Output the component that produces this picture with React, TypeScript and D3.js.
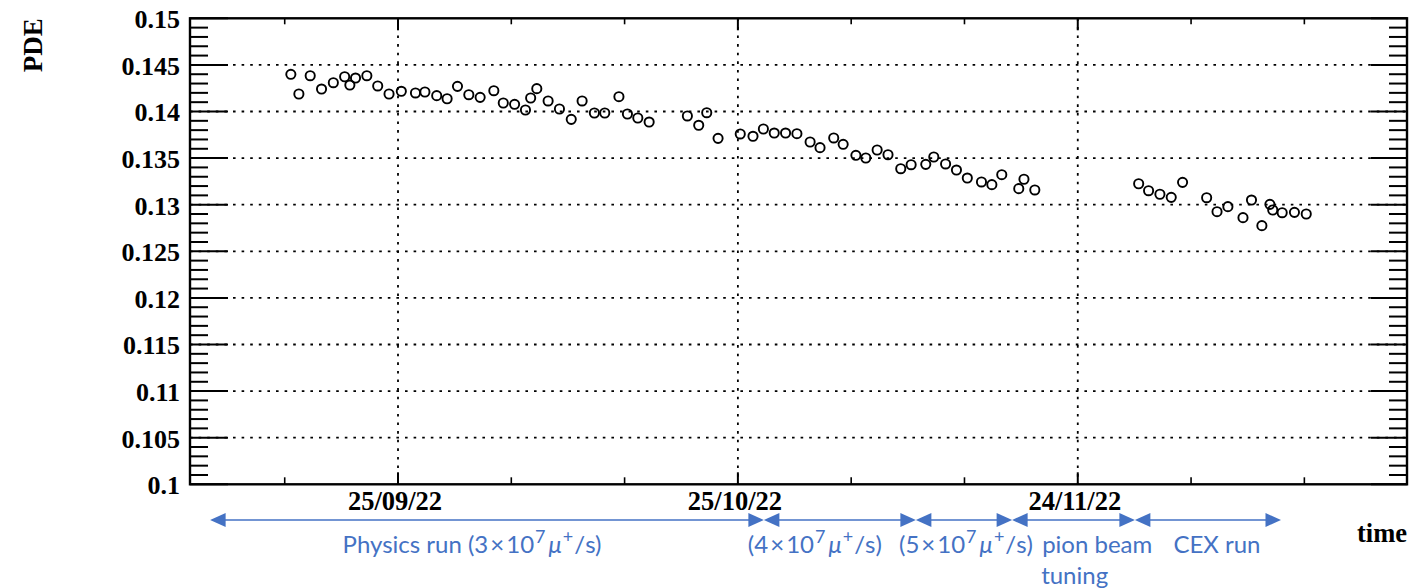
import React from "react";
import * as d3 from "d3";

// ---------- data ----------
const measurementTimes = [
  "2022-09-15T13:00", "2022-09-16T06:00", "2022-09-17T06:00", "2022-09-18T06:00", "2022-09-19T07:00",
  "2022-09-20T07:00", "2022-09-20T18:00", "2022-09-21T06:00", "2022-09-22T06:00", "2022-09-23T05:00",
  "2022-09-24T05:00", "2022-09-25T07:00", "2022-09-26T13:00", "2022-09-27T09:00", "2022-09-28T10:00",
  "2022-09-29T08:00", "2022-09-30T06:00", "2022-10-01T06:00", "2022-10-02T06:00", "2022-10-03T11:00",
  "2022-10-04T07:00", "2022-10-05T07:00", "2022-10-06T06:00", "2022-10-06T17:00", "2022-10-07T06:00",
  "2022-10-08T06:00", "2022-10-09T06:00", "2022-10-10T07:00", "2022-10-11T06:00", "2022-10-12T08:00",
  "2022-10-13T06:00", "2022-10-14T12:00", "2022-10-15T06:00", "2022-10-16T04:00", "2022-10-17T04:00",
  "2022-10-20T13:00", "2022-10-21T13:00", "2022-10-22T06:00", "2022-10-23T06:00", "2022-10-25T05:00",
  "2022-10-26T08:00", "2022-10-27T06:00", "2022-10-28T05:00", "2022-10-29T05:00", "2022-10-30T05:00",
  "2022-10-31T09:00", "2022-11-01T06:00", "2022-11-02T11:00", "2022-11-03T07:00", "2022-11-04T10:00",
  "2022-11-05T07:00", "2022-11-06T07:00", "2022-11-07T06:00", "2022-11-08T09:00", "2022-11-09T07:00",
  "2022-11-10T14:00", "2022-11-11T07:00", "2022-11-12T08:00", "2022-11-13T07:00", "2022-11-14T06:00",
  "2022-11-15T12:00", "2022-11-16T10:00", "2022-11-17T07:00", "2022-11-18T19:00", "2022-11-19T06:00",
  "2022-11-20T05:00", "2022-11-29T09:00", "2022-11-30T06:00", "2022-12-01T06:00", "2022-12-02T06:00",
  "2022-12-03T06:00", "2022-12-05T09:00", "2022-12-06T07:00", "2022-12-07T06:00", "2022-12-08T14:00",
  "2022-12-09T08:00", "2022-12-10T06:00", "2022-12-10T23:00", "2022-12-11T05:00", "2022-12-12T01:00",
  "2022-12-13T03:00", "2022-12-14T04:00",
];

const pdeValues = [
  0.14399, 0.14188, 0.14384, 0.14241, 0.14309,
  0.14373, 0.14284, 0.14359, 0.14384, 0.14274,
  0.14188, 0.14217, 0.14199, 0.14209, 0.1417,
  0.14137, 0.1427, 0.1418, 0.14152, 0.14223,
  0.14091, 0.14077, 0.14016, 0.14145, 0.14245,
  0.14113, 0.14027, 0.13916, 0.14113, 0.13984,
  0.13984, 0.14159, 0.13973, 0.1393, 0.13887,
  0.13952, 0.13852, 0.13987, 0.13712, 0.13759,
  0.13734, 0.13812, 0.13769, 0.13769, 0.13762,
  0.13673, 0.13612, 0.13716, 0.13648, 0.1353,
  0.13501, 0.13587, 0.13536, 0.13386, 0.13429,
  0.13433, 0.13512, 0.13437, 0.13372, 0.13286,
  0.13244, 0.13215, 0.13322, 0.13172, 0.13273,
  0.13158, 0.13225, 0.1315, 0.13112, 0.13079,
  0.1324, 0.13075, 0.12925, 0.12979, 0.12861,
  0.1305, 0.12775, 0.13004, 0.12943, 0.12914,
  0.12918, 0.129,
];

const yTickValues = [0.1, 0.105, 0.11, 0.115, 0.12, 0.125, 0.13, 0.135, 0.14, 0.145, 0.15];
const yTickLabels = ["0.1", "0.105", "0.11", "0.115", "0.12", "0.125", "0.13", "0.135", "0.14", "0.145", "0.15"];

const xMajorTicks = ["2022-09-25T00:00", "2022-10-25T00:00", "2022-11-24T00:00"];
const xMinorTicks = [
  "2022-09-15T00:00", "2022-10-05T00:00", "2022-10-15T00:00", "2022-11-04T00:00",
  "2022-11-14T00:00", "2022-12-04T00:00", "2022-12-14T00:00",
];
const xDomain = ["2022-09-06T15:22", "2022-12-23T01:26"];

const runStarts = ["2022-09-08T10:00", "2022-10-27T07:00", "2022-11-09T17:00", "2022-11-18T05:00", "2022-11-29T01:00"];
const runEnds = ["2022-10-27T07:00", "2022-11-09T17:00", "2022-11-18T05:00", "2022-11-29T01:00", "2022-12-11T22:30"];
const runNames = ["Physics run ", "", "", "pion beam", "CEX run"];
const runRates = ["3", "4", "5", "", ""];

// ---------- layout ----------
const W = 1412;
const H = 588;
const L = 190, R = 1407, T = 18.3, B = 484.3;
const BLUE = "#4472C4";
const SERIF = "'Liberation Serif', 'Times New Roman', serif";
const SANS = "Lato, 'Open Sans', sans-serif";

const parseT = d3.utcParse("%Y-%m-%dT%H:%M");

export default function App() {
  const x = d3.scaleUtc().domain(xDomain.map((s) => parseT(s) as Date)).range([L, R]);
  const y = d3.scaleLinear().domain([0.1, 0.15]).range([B, T]);
  const fmt = d3.utcFormat("%d/%m/%y");

  const yMinor = d3.range(1, 50).map((i) => 0.1 + i * 0.001).filter((_, i) => (i + 1) % 5 !== 0);
  const points = measurementTimes.map((t, i) => ({ t: parseT(t) as Date, v: pdeValues[i] }));

  const arrowY = 520;
  const headL = 15.5, headH = 7;
  const labelDx = [-15, -25, 2, 0, 9];

  const rateText = (rate: string) => (
    <>
      <tspan>{"(" + rate}</tspan>
      <tspan dx={2}>×</tspan>
      <tspan dx={2}>10</tspan>
      <tspan dy={-10} dx={1} fontSize={18}>7</tspan>
      <tspan dy={10} dx={3} fontStyle="italic">μ</tspan>
      <tspan dy={-10} dx={1} fontSize={18}>+</tspan>
      <tspan dy={10} dx={1}>/s)</tspan>
    </>
  );

  return (
    <svg width={W} height={H} style={{ position: "absolute", left: 0, top: 0, background: "#fff" }}>
      <rect x={0} y={0} width={W} height={H} fill="#fff" />

      {/* horizontal grid */}
      {yTickValues.slice(1, -1).map((v) => (
        <line key={"hg" + v} x1={L} x2={R} y1={y(v)} y2={y(v)} stroke="#000" strokeWidth={1.8} strokeDasharray="2.6 6" />
      ))}
      {/* vertical grid */}
      {xMajorTicks.map((s) => {
        const xx = x(parseT(s) as Date);
        return <line key={"vg" + s} x1={xx} x2={xx} y1={T} y2={B} stroke="#000" strokeWidth={1.8} strokeDasharray="2.6 6" />;
      })}

      {/* y ticks */}
      {yTickValues.map((v) => (
        <g key={"yt" + v}>
          <line x1={L} x2={L + 38} y1={y(v)} y2={y(v)} stroke="#000" strokeWidth={2} />
          <line x1={R} x2={R - 36} y1={y(v)} y2={y(v)} stroke="#000" strokeWidth={2} />
        </g>
      ))}
      {yMinor.map((v) => (
        <g key={"ym" + v}>
          <line x1={L} x2={L + 18} y1={y(v)} y2={y(v)} stroke="#000" strokeWidth={2} />
          <line x1={R} x2={R - 18} y1={y(v)} y2={y(v)} stroke="#000" strokeWidth={2} />
        </g>
      ))}

      {/* x ticks */}
      {xMajorTicks.map((s) => {
        const xx = x(parseT(s) as Date);
        return (
          <g key={"xt" + s}>
            <line x1={xx} x2={xx} y1={B} y2={B - 12} stroke="#000" strokeWidth={2} />
            <line x1={xx} x2={xx} y1={T} y2={T + 12} stroke="#000" strokeWidth={2} />
          </g>
        );
      })}
      {xMinorTicks.map((s) => {
        const xx = x(parseT(s) as Date);
        return (
          <g key={"xm" + s}>
            <line x1={xx} x2={xx} y1={B} y2={B - 7} stroke="#000" strokeWidth={1.6} />
            <line x1={xx} x2={xx} y1={T} y2={T + 6} stroke="#000" strokeWidth={1.6} />
          </g>
        );
      })}

      {/* frame */}
      <rect x={L} y={T} width={R - L} height={B - T} fill="none" stroke="#000" strokeWidth={2.4} />

      {/* y labels */}
      {yTickValues.map((v, i) => (
        <text key={"yl" + v} x={180} y={y(v) + 9.8} textAnchor="end" fontFamily={SERIF} fontWeight="bold" fontSize={26}>
          {yTickLabels[i]}
        </text>
      ))}
      {/* x labels */}
      {xMajorTicks.map((s) => {
        const d = parseT(s) as Date;
        return (
          <text key={"xl" + s} x={x(d) - 3} y={510} textAnchor="middle" fontFamily={SERIF} fontWeight="bold" fontSize={26.5}>
            {fmt(d)}
          </text>
        );
      })}

      {/* axis titles */}
      <text transform={`translate(41.5,${T}) rotate(-90)`} textAnchor="end" fontFamily={SERIF} fontWeight="bold" fontSize={27}>
        PDE
      </text>
      <text x={R} y={541.5} textAnchor="end" fontFamily={SERIF} fontWeight="bold" fontSize={26.5}>
        time
      </text>

      {/* data */}
      {points.map((p, i) => (
        <circle key={"p" + i} cx={x(p.t)} cy={y(p.v)} r={4.6} fill="none" stroke="#000" strokeWidth={1.9} />
      ))}

      {/* run-period arrows */}
      {runStarts.map((s, i) => {
        const x0 = x(parseT(s) as Date);
        const x1 = x(parseT(runEnds[i]) as Date);
        const mid = (x0 + x1) / 2 + labelDx[i];
        return (
          <g key={"run" + i}>
            <line x1={x0 + 4} x2={x1 - 4} y1={arrowY} y2={arrowY} stroke={BLUE} strokeWidth={1.6} />
            <polygon points={`${x0},${arrowY} ${x0 + headL},${arrowY - headH} ${x0 + headL},${arrowY + headH}`} fill={BLUE} />
            <polygon points={`${x1},${arrowY} ${x1 - headL},${arrowY - headH} ${x1 - headL},${arrowY + headH}`} fill={BLUE} />
            {i === 3 ? (
              <text x={x0 + 30} y={553} fontFamily={SANS} fontSize={24} fill={BLUE}>
                <tspan x={x0 + 30}>{runNames[i]}</tspan>
                <tspan x={x0 + 29} dy={31}>tuning</tspan>
              </text>
            ) : (
              <text x={mid} y={553} textAnchor="middle" fontFamily={SANS} fontSize={24} fill={BLUE}>
                {runNames[i]}
                {runRates[i] ? rateText(runRates[i]) : null}
              </text>
            )}
          </g>
        );
      })}
    </svg>
  );
}
